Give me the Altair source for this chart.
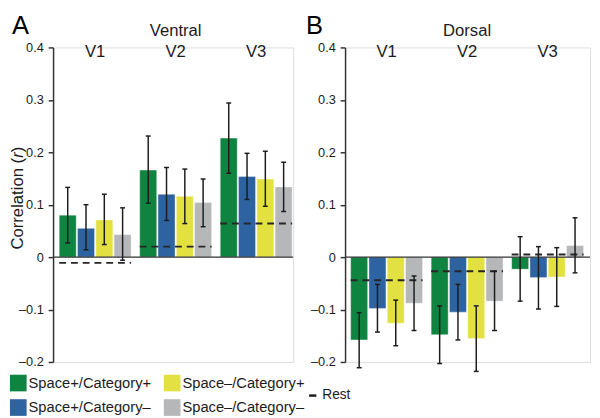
import altair as alt
import pandas as pd

FONT = "Liberation Sans"

# ---- data ----
regions = ["V1", "V2", "V3"]
conditions = ["Space+/Category+", "Space+/Category–", "Space–/Category+", "Space–/Category–"]
colors = ["#0f8440", "#2e63a1", "#e3e142", "#b5b7b9"]
legend_order = [conditions[0], conditions[2], conditions[1], conditions[3]]
panel_names = ["Ventral", "Dorsal"]
panel_letters = ["A", "B"]
y_ticks = [-0.2, -0.1, 0, 0.1, 0.2, 0.3, 0.4]
rest_label = ["Rest"]
y_title = ["Correlation (", "r", ")"]

ventral_mean = [[0.080, 0.055, 0.071, 0.043],
                [0.166, 0.120, 0.116, 0.104],
                [0.227, 0.154, 0.149, 0.134]]
ventral_hi = [[0.133, 0.100, 0.120, 0.094],
              [0.231, 0.171, 0.168, 0.149],
              [0.294, 0.198, 0.202, 0.181]]
ventral_lo = [[0.027, 0.014, 0.024, -0.006],
              [0.103, 0.070, 0.064, 0.058],
              [0.160, 0.110, 0.097, 0.087]]
ventral_rest = [-0.011, 0.020, 0.064]

dorsal_mean = [[-0.158, -0.098, -0.126, -0.088],
               [-0.148, -0.105, -0.155, -0.084],
               [-0.023, -0.039, -0.038, 0.022]]
dorsal_hi = [[-0.106, -0.052, -0.082, -0.036],
             [-0.093, -0.052, -0.093, -0.027],
             [0.039, 0.020, 0.018, 0.075]]
dorsal_lo = [[-0.211, -0.143, -0.169, -0.140],
             [-0.203, -0.158, -0.218, -0.140],
             [-0.084, -0.099, -0.094, -0.030]]
dorsal_rest = [-0.044, -0.027, 0.005]

# ---- layout / style constants ----
GROUP_STEP = 4.4
HALF = 0.465
H = 321
AX = "#333333"
INK = "#1c1c1c"


def panel(idx, means, his, los, rests, x_domain, width, is_left):
    rows = []
    for g, reg in enumerate(regions):
        for c, cond in enumerate(conditions):
            center = g * GROUP_STEP + c
            rows.append(dict(region=reg, condition=cond, mean=means[g][c],
                             lo=los[g][c], hi=his[g][c],
                             xc=center, x0=center - HALF, x1=center + HALF))
    bars = pd.DataFrame(rows)
    rest_df = pd.DataFrame(dict(
        region=regions, rest=rests,
        x0=[g * GROUP_STEP - HALF for g in range(len(regions))],
        x1=[g * GROUP_STEP + len(conditions) - 1 + HALF for g in range(len(regions))],
        xc=[g * GROUP_STEP + (len(conditions) - 1) / 2 for g in range(len(regions))],
    ))
    title_df = pd.DataFrame(dict(name=[panel_names[idx]],
                                 xc=[1 * GROUP_STEP + (len(conditions) - 1) / 2]))
    letter_df = pd.DataFrame(dict(letter=[panel_letters[idx]]))

    xs = alt.Scale(domain=x_domain, nice=False, zero=False)
    ys = alt.Scale(domain=[-0.2, 0.4], nice=False, zero=False)
    yaxis = alt.Axis(
        title=None, values=y_ticks, grid=False,
        labelExpr="datum.value == 0 ? '0' : (datum.value < 0 ? '–' : '') + format(abs(datum.value), '.1f')",
        domainColor=AX, domainWidth=1.5, tickColor=AX, tickWidth=1.5, tickSize=5,
        labelPadding=5, labelFont=FONT, labelFontSize=13, labelColor=INK,
    )
    if is_left:
        legend = alt.Legend(
            orient="none", legendX=-44, legendY=334, direction="horizontal",
            columns=2, values=legend_order, title=None, symbolType="square",
            symbolSize=289, symbolStrokeWidth=0, symbolOpacity=1,
            labelFont=FONT, labelFontSize=15, labelColor=INK, labelOffset=2,
            columnPadding=12, rowPadding=8, padding=0, labelLimit=300,
        )
    else:
        legend = None

    def Y(field):
        return alt.Y(field, scale=ys, axis=yaxis)

    layers = []
    layers.append(
        alt.Chart(bars).mark_bar(stroke="white", strokeWidth=0.8, strokeOpacity=0.5).encode(
            x=alt.X("x0:Q", scale=xs, axis=None),
            x2="x1:Q",
            y=Y("mean:Q"),
            y2=alt.datum(0),
            color=alt.Color("condition:N", scale=alt.Scale(domain=conditions, range=colors),
                            legend=legend),
        )
    )
    layers.append(
        alt.Chart(pd.DataFrame(dict(z=[0.0]))).mark_rule(color=AX, strokeWidth=1.5).encode(
            y=Y("z:Q"),
            x=alt.value(0), x2=alt.value(width),
        )
    )
    layers.append(
        alt.Chart(rest_df).mark_rule(color="#262626", strokeWidth=2, strokeDash=[7, 5]).encode(
            x=alt.X("x0:Q", scale=xs, axis=None), x2="x1:Q",
            y=Y("rest:Q"),
        )
    )
    layers.append(
        alt.Chart(bars).mark_rule(color=INK, strokeWidth=1.5).encode(
            x=alt.X("xc:Q", scale=xs, axis=None),
            y=Y("lo:Q"), y2="hi:Q",
        )
    )
    layers.append(
        alt.Chart(bars).transform_fold(["lo", "hi"], as_=["end", "v"]).mark_tick(
            orient="horizontal", size=5, thickness=1.5, color=INK, opacity=1).encode(
            x=alt.X("xc:Q", scale=xs, axis=None),
            y=Y("v:Q"),
        )
    )
    layers.append(
        alt.Chart(rest_df).mark_text(font=FONT, fontSize=17, color=INK, baseline="alphabetic",
                                     align="center").encode(
            x=alt.X("xc:Q", scale=xs, axis=None), y=alt.value(10), text="region:N",
        )
    )
    layers.append(
        alt.Chart(title_df).mark_text(font=FONT, fontSize=17, color=INK, baseline="alphabetic",
                                      align="center").encode(
            x=alt.X("xc:Q", scale=xs, axis=None), y=alt.value(-12), text="name:N",
        )
    )
    layers.append(
        alt.Chart(letter_df).mark_text(font=FONT, fontSize=26, color="#000000", baseline="top",
                                       align="left").encode(
            x=alt.value(-42 if is_left else -40), y=alt.value(-35), text="letter:N",
        )
    )
    if is_left:
        # y axis title with italic r, drawn bottom-to-top
        starts = [206.2, 112.7, 107.0]
        styles = ["normal", "italic", "normal"]
        for part, y0, st in zip(y_title, starts, styles):
            layers.append(
                alt.Chart(pd.DataFrame(dict(t=[part]))).mark_text(
                    font=FONT, fontSize=17, fontStyle=st, color=INK, angle=270,
                    align="left", baseline="alphabetic").encode(
                    x=alt.value(-31), y=alt.value(y0), text="t:N",
                )
            )
    else:
        rest_df2 = pd.DataFrame(dict(label=rest_label))
        layers.append(
            alt.Chart(rest_df2).mark_rule(color=INK, strokeWidth=2.5).encode(
                x=alt.value(-36.7), x2=alt.value(-29.3), y=alt.value(355.3),
            )
        )
        layers.append(
            alt.Chart(rest_df2).mark_text(font=FONT, fontSize=14, color=INK, align="left",
                                          baseline="middle").encode(
                x=alt.value(-23.3), y=alt.value(355.3), text="label:N",
            )
        )
    return alt.layer(*layers).properties(width=width, height=H)


left = panel(0, ventral_mean, ventral_hi, ventral_lo, ventral_rest, [-0.80, 12.32], 245, True)
right = panel(1, dorsal_mean, dorsal_hi, dorsal_lo, dorsal_rest, [-0.77, 12.62], 250, False)

chart = (
    alt.hconcat(left, right, spacing=53, bounds="flush")
    .resolve_scale(color="independent", x="independent", y="independent")
    .resolve_legend(color="independent")
    .properties(padding=0)
    .configure_view(stroke="transparent", strokeWidth=0)
    .configure(font=FONT)
)

chart.save("out.html", embed_options={"renderer": "svg", "actions": False})
